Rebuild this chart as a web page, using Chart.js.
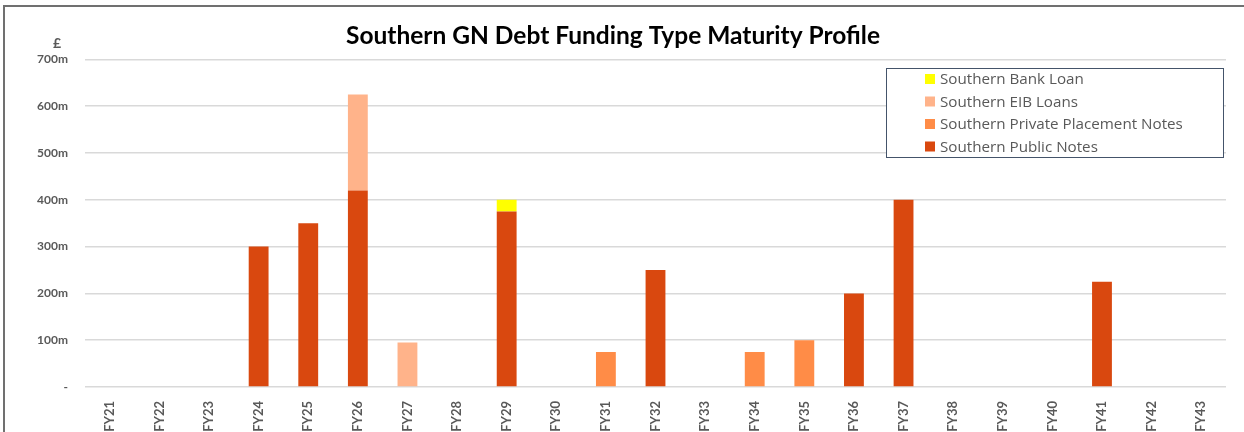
<!DOCTYPE html>
<html>
<head>
<meta charset="utf-8">
<script src="https://cdn.jsdelivr.net/npm/chart.js@4"></script>
<style>
  body { margin: 0; background: #fff; }
  #wrap { width: 1244px; height: 432px; position: relative; }
</style>
</head>
<body>
<div id="wrap"><canvas id="chart" width="1244" height="432"></canvas></div>
<script>
// data (£m)
const years = ['FY21','FY22','FY23','FY24','FY25','FY26','FY27','FY28','FY29','FY30','FY31','FY32',
  'FY33','FY34','FY35','FY36','FY37','FY38','FY39','FY40','FY41','FY42','FY43'];
const publicNotes = [0,0,0,300,350,420,0,0,375,0,0,250,0,0,0,200,400,0,0,0,225,0,0];
const privatePlacement = [0,0,0,0,0,0,0,0,0,0,75,0,0,75,100,0,0,0,0,0,0,0,0];
const eibLoans = [0,0,0,0,0,205,95,0,0,0,0,0,0,0,0,0,0,0,0,0,0,0,0];
const bankLoan = [0,0,0,0,0,0,0,0,25,0,0,0,0,0,0,0,0,0,0,0,0,0,0];
const yTicks = [0,100,200,300,400,500,600,700];

const grey = '#595959';
const font = 'Lato, "Open Sans", sans-serif';
const legendFont = '"Open Sans", Lato, sans-serif';

// frame, £ label and boxed legend
const extras = {
  id: 'extras',
  afterDraw(chart) {
    const ctx = chart.ctx;
    ctx.save();
    ctx.strokeStyle = '#707070';
    ctx.lineWidth = 2;
    ctx.beginPath();
    ctx.moveTo(4, 440);
    ctx.lineTo(4, 6);
    ctx.lineTo(1244, 6);
    ctx.stroke();

    ctx.fillStyle = grey;
    ctx.font = 'bold 14px ' + font;
    ctx.textAlign = 'center';
    ctx.textBaseline = 'middle';
    ctx.fillText('£', 57, 43);

    // legend (top item = last stacked dataset)
    const bx = 886, by = 68, bw = 337, bh = 89;
    ctx.fillStyle = '#fff';
    ctx.fillRect(bx, by, bw, bh);
    ctx.strokeStyle = '#44546a';
    ctx.lineWidth = 1;
    ctx.strokeRect(bx + 0.5, by + 0.5, bw, bh);
    const ds = chart.data.datasets.slice().reverse();
    ctx.font = '15.2px ' + legendFont;
    ctx.textAlign = 'left';
    ds.forEach((d, i) => {
      const y = 79 + i * 22.5;
      ctx.fillStyle = d.backgroundColor;
      ctx.fillRect(925, y - 5, 10, 10);
      ctx.fillStyle = grey;
      ctx.fillText(d.label, 940, y + 1);
    });
    ctx.restore();
  }
};

new Chart(document.getElementById('chart'), {
  type: 'bar',
  data: {
    labels: years,
    datasets: [
      { label: 'Southern Public Notes', data: publicNotes, backgroundColor: '#d9480f' },
      { label: 'Southern Private Placement Notes', data: privatePlacement, backgroundColor: '#ff8c47' },
      { label: 'Southern EIB Loans', data: eibLoans, backgroundColor: '#ffb38a' },
      { label: 'Southern Bank Loan', data: bankLoan, backgroundColor: '#ffff00' }
    ]
  },
  options: {
    responsive: false,
    animation: false,
    layout: { padding: { left: 0, right: 18, top: 0, bottom: 0 } },
    datasets: { bar: { categoryPercentage: 1, barPercentage: 0.4, borderWidth: 0 } },
    plugins: {
      legend: { display: false },
      tooltip: { enabled: false },
      title: {
        display: true,
        text: 'Southern GN Debt Funding Type Maturity Profile',
        color: '#000',
        font: { family: font, size: 24.5, weight: 'bold' },
        padding: { top: 21, bottom: 9 }
      }
    },
    scales: {
      x: {
        stacked: true,
        grid: { display: false },
        border: { display: false },
        ticks: {
          color: grey,
          font: { family: font, size: 13, weight: 'bold' },
          minRotation: 90, maxRotation: 90,
          padding: 6
        },
        afterFit(s) { s.height = 45; }
      },
      y: {
        stacked: true,
        min: 0, max: 700,
        afterBuildTicks(s) { s.ticks = yTicks.map(v => ({ value: v })); },
        grid: { color: '#d9d9d9', lineWidth: 1.5, drawTicks: false },
        border: { display: false },
        ticks: {
          color: grey,
          font: { family: font, size: 12, weight: 'bold' },
          padding: 17,
          callback: v => v === 0 ? '-' : v + 'm'
        },
        afterFit(s) { s.width = 85; }
      }
    }
  },
  plugins: [extras]
});
</script>
</body>
</html>
